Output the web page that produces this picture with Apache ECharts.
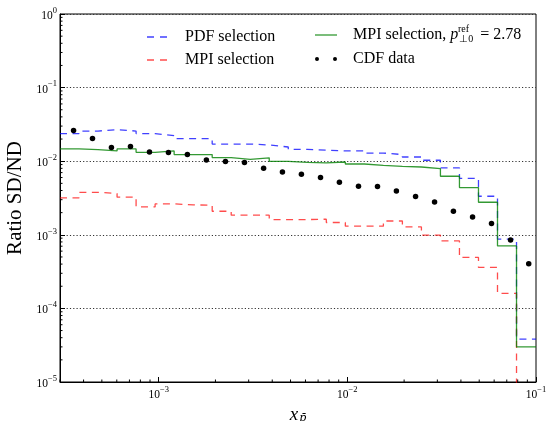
<!DOCTYPE html>
<html>
<head>
<meta charset="utf-8">
<script src="https://cdn.jsdelivr.net/npm/echarts@6/dist/echarts.min.js"></script>
<style>
  html, body { margin: 0; padding: 0; background: #fff; }
  #chart { width: 547px; height: 421px; }
</style>
</head>
<body>
<div id="chart"></div>
<script>
// 25 log-spaced bins, 3e-4 .. 0.1
const binEdges = [3.000e-4, 3.784e-4, 4.773e-4, 6.020e-4, 7.593e-4, 9.577e-4, 1.208e-3, 1.524e-3,
  1.922e-3, 2.424e-3, 3.057e-3, 3.856e-3, 4.864e-3, 6.135e-3, 7.738e-3, 9.760e-3, 1.231e-2,
  1.553e-2, 1.958e-2, 2.470e-2, 3.115e-2, 3.929e-2, 4.956e-2, 6.251e-2, 7.884e-2, 1.000e-1];

// PDF selection (blue dashed)
const pdfSel = [0.0237, 0.0257, 0.0268, 0.0257, 0.0237, 0.0223, 0.0203, 0.0203, 0.0171, 0.0171,
  0.0166, 0.0156, 0.0145, 0.0141, 0.0138, 0.0138, 0.0129, 0.0123, 0.0114, 0.0103, 0.00809,
  0.00586, 0.00334, 0.000871, 3.83e-5];

// MPI selection (red dashed); last bin falls off the bottom of the plot
const mpiSel = [0.00317, 0.00378, 0.00363, 0.00324, 0.00239, 0.00263, 0.00255, 0.00252, 0.00209,
  0.00185, 0.00185, 0.00161, 0.00161, 0.00163, 0.00147, 0.00131, 0.00131, 0.00154, 0.00128,
  0.000988, 0.000826, 0.000492, 0.000360, 0.000160, 1e-7];

// MPI selection, p_T0^ref = 2.78 (green solid)
const mpiRef = [0.0147, 0.0144, 0.0138, 0.0147, 0.0132, 0.0138, 0.0123, 0.0123, 0.0112, 0.0106,
  0.0111, 0.00997, 0.00966, 0.00946, 0.00976, 0.00916, 0.00879, 0.00853, 0.00834, 0.00794,
  0.00624, 0.00438, 0.00277, 0.000707, 3.01e-5];

// CDF data points
const cdfX = [3.54e-4, 4.46e-4, 5.62e-4, 7.09e-4, 8.94e-4, 1.127e-3, 1.42e-3, 1.79e-3, 2.26e-3,
  2.85e-3, 3.60e-3, 4.53e-3, 5.71e-3, 7.21e-3, 9.08e-3, 1.146e-2, 1.445e-2, 1.82e-2, 2.30e-2,
  2.90e-2, 3.65e-2, 4.61e-2, 5.81e-2, 7.33e-2, 9.15e-2];
const cdfY = [0.0262, 0.0203, 0.0154, 0.0158, 0.0133, 0.0131, 0.0123, 0.0104, 0.00988, 0.00957,
  0.00801, 0.00714, 0.00664, 0.00599, 0.00517, 0.00456, 0.00452, 0.00394, 0.00331, 0.00279,
  0.00209, 0.00175, 0.00142, 0.000853, 0.000403];

const X_MIN = 3e-4, X_MAX = 0.1, Y_MIN = 1e-5, Y_MAX = 1;
const FONT = 'Liberation Serif';
const GREEN_NAME = 'MPI selection, pT0ref = 2.78';

const BLUE = 'rgba(0,0,255,0.75)', RED = 'rgba(255,0,0,0.7)', GREEN = 'rgba(0,128,0,0.8)';

function steps(vals) {
  return binEdges.map((e, i) => [e, vals[Math.min(i, vals.length - 1)]]);
}

// minor ticks (2..9 in every decade) drawn through the axis scales
const minorTicks = [];
for (let d = -4; d <= -2; d++) {
  for (let m = 2; m <= 9; m++) {
    const v = m * Math.pow(10, d);
    if (v > X_MIN && v < X_MAX) minorTicks.push([v, Y_MIN, 0]);
  }
}
for (let d = -5; d <= -1; d++) {
  for (let m = 2; m <= 9; m++) minorTicks.push([X_MIN, m * Math.pow(10, d), 1]);
}

function powLabel(v) {
  const e = Math.log10(v);
  if (Math.abs(e - Math.round(e)) > 1e-6) return '';
  const n = Math.round(e);
  return '{b|10}{s|' + (n < 0 ? '\u2212' + (-n) : n) + '}';
}
const tickRich = {
  b: { fontFamily: FONT, fontSize: 11.5, color: '#000', lineHeight: 16, verticalAlign: 'bottom' },
  s: { fontFamily: FONT, fontSize: 8.5, color: '#000', lineHeight: 11, verticalAlign: 'top' }
};

const dashIcon = 'path://M0,0h7v1.3h-7zM13,0h7v1.3h-7z';
const lineIcon = 'path://M0,0h22v1.3h-22z';
const dotsIcon = 'path://M0,2a2,2 0 1,0 4,0a2,2 0 1,0 -4,0M18,2a2,2 0 1,0 4,0a2,2 0 1,0 -4,0';

const chart = echarts.init(document.getElementById('chart'), null, { renderer: 'canvas' });
chart.setOption({
  animation: false,
  backgroundColor: '#fff',
  grid: {
    left: 60, right: 11, top: 14, bottom: 39, containLabel: false, outerBoundsMode: 'none',
    show: true, borderColor: '#000', borderWidth: 1, backgroundColor: 'transparent'
  },
  xAxis: {
    type: 'log', logBase: 10, min: X_MIN, max: X_MAX,
    axisLine: { lineStyle: { color: '#000', width: 1 } },
    axisTick: { inside: true, length: 5, lineStyle: { color: '#000' } },
    axisLabel: { formatter: powLabel, rich: tickRich, margin: 3, showMinLabel: false },
    splitLine: { show: false },
    name: '{x|x}{s|p\u0304}', nameLocation: 'middle', nameGap: 7,
    nameTextStyle: {
      rich: {
        x: { fontFamily: FONT, fontStyle: 'italic', fontSize: 19, color: '#000', lineHeight: 18, verticalAlign: 'top' },
        s: { fontFamily: 'DejaVu Serif', fontStyle: 'italic', fontSize: 11, color: '#000', lineHeight: 12, verticalAlign: 'bottom', padding: [0, 0, 0, 1] }
      }
    }
  },
  yAxis: {
    type: 'log', logBase: 10, min: Y_MIN, max: Y_MAX,
    axisLine: { lineStyle: { color: '#000', width: 1 } },
    axisTick: { inside: true, length: 5, lineStyle: { color: '#000' } },
    axisLabel: { formatter: powLabel, rich: tickRich, margin: 3 },
    splitLine: { show: true, lineStyle: { color: '#333', width: 1.2, type: [1.2, 2.1] } },
    name: 'Ratio SD/ND', nameLocation: 'middle', nameGap: 34,
    nameTextStyle: { fontFamily: FONT, fontSize: 21, color: '#000' }
  },
  legend: [
    {
      data: [{ name: 'PDF selection', icon: dashIcon }, { name: 'MPI selection', icon: dashIcon }],
      orient: 'vertical', left: 147, top: 28, padding: 0,
      itemWidth: 20, itemHeight: 14, itemGap: 5,
      textStyle: { fontFamily: FONT, fontSize: 16, color: '#000', lineHeight: 18, padding: [0, 0, 0, 13] }
    },
    {
      data: [{ name: GREEN_NAME, icon: lineIcon }, { name: 'CDF data', icon: dotsIcon }],
      orient: 'vertical', left: 315, top: 27, padding: 0,
      itemWidth: 22, itemHeight: 4, itemGap: 7,
      formatter: function (name) {
        if (name === GREEN_NAME) return '{t|MPI selection, }{p|p}{sb|\u22a50}{t| = 2.78}';
        return '{t|' + name + '}';
      },
      textStyle: {
        padding: [0, 0, 0, 11],
        rich: {
          t: { fontFamily: FONT, fontSize: 16, color: '#000', lineHeight: 18 },
          p: { fontFamily: FONT, fontSize: 16, fontStyle: 'italic', color: '#000', lineHeight: 18, padding: [0, 1, 0, 0] },
          sb: { fontFamily: FONT, fontSize: 10, color: '#000', lineHeight: 12, verticalAlign: 'bottom', padding: [0, 3, 0, 0] }
        }
      }
    }
  ],
  graphic: [
    { type: 'text', left: 458, top: 24, style: { text: 'ref', font: '10px "Liberation Serif"', fill: '#000' } }
  ],
  series: [
    {
      name: 'PDF selection', type: 'line', step: 'end', symbol: 'none', clip: true,
      data: steps(pdfSel),
      lineStyle: { color: BLUE, width: 1.3, type: [7, 5.5] },
      itemStyle: { color: BLUE }, z: 2
    },
    {
      name: 'MPI selection', type: 'line', step: 'end', symbol: 'none', clip: true,
      data: steps(mpiSel),
      lineStyle: { color: RED, width: 1.3, type: [7, 5.5] },
      itemStyle: { color: RED }, z: 2
    },
    {
      name: GREEN_NAME, type: 'line', step: 'end', symbol: 'none', clip: true,
      data: steps(mpiRef),
      lineStyle: { color: GREEN, width: 1.3 },
      itemStyle: { color: GREEN }, z: 3
    },
    {
      name: 'CDF data', type: 'scatter', symbol: 'circle', symbolSize: 5.5,
      data: cdfX.map((x, i) => [x, cdfY[i]]),
      itemStyle: { color: '#000', opacity: 1 }, z: 4
    },
    {
      type: 'custom', silent: true, z: 5, clip: false,
      data: minorTicks,
      renderItem: function (params, api) {
        const p = api.coord([api.value(0), api.value(1)]);
        const vertical = api.value(2) === 0;
        return {
          type: 'line',
          shape: vertical
            ? { x1: p[0], y1: p[1], x2: p[0], y2: p[1] - 2.5 }
            : { x1: p[0], y1: p[1], x2: p[0] + 2.5, y2: p[1] },
          style: { stroke: '#000', lineWidth: 1 }
        };
      }
    }
  ]
});
</script>
</body>
</html>
